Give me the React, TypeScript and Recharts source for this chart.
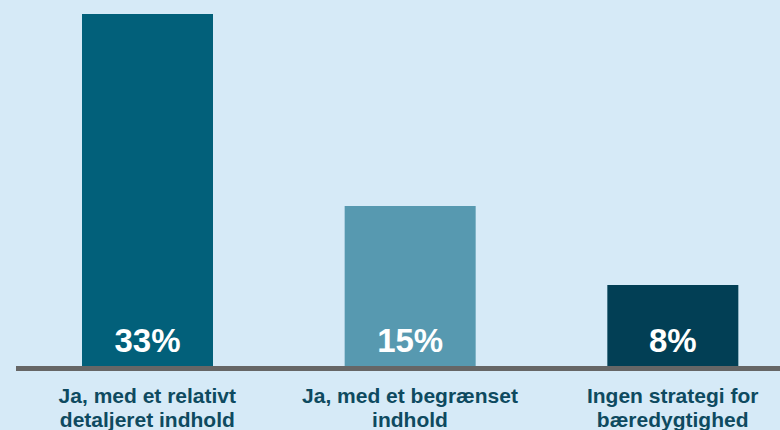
import { BarChart, Bar, XAxis, YAxis, Cell, LabelList } from 'recharts';

const categories = [
  'Ja, med et relativt\ndetaljeret indhold',
  'Ja, med et begrænset\nindhold',
  'Ingen strategi for\nbæredygtighed',
];
const values = [33, 15, 7.6];
const valueLabels = ['33%', '15%', '8%'];
const barColors = ['#02607a', '#5799b0', '#023f55'];

const data = categories.map((name, i) => ({ name, value: values[i], label: valueLabels[i] }));

const FONT = '"Liberation Sans", Arial, sans-serif';
const TEXT_COLOR = '#0e4a60';

function CategoryTick({ x, y, payload }: any) {
  const lines = String(payload.value).split('\n');
  return (
    <g>
      {lines.map((line, i) => (
        <text
          key={i}
          x={x}
          y={y + 34.5 + i * 24}
          textAnchor="middle"
          fill={TEXT_COLOR}
          fontFamily={FONT}
          fontWeight="bold"
          fontSize={21}
        >
          {line}
        </text>
      ))}
    </g>
  );
}

function ValueLabel({ x, y, width, height, index }: any) {
  return (
    <text
      x={x + width / 2}
      y={y + height - 14}
      textAnchor="middle"
      fill="#ffffff"
      fontFamily={FONT}
      fontWeight="bold"
      fontSize={33}
    >
      {valueLabels[index]}
    </text>
  );
}

export default function App() {
  return (
    <div
      style={{
        position: 'fixed',
        top: 0,
        left: 0,
        width: 780,
        height: 430,
        overflow: 'hidden',
        background: '#d6eaf7',
      }}
    >
      <BarChart
        width={804}
        height={436}
        data={data}
        margin={{ top: 14, right: 0, left: 16, bottom: 7.5 }}
        barCategoryGap={0}
      >
        <YAxis hide domain={[-0.234, 33]} allowDataOverflow />
        <XAxis
          dataKey="name"
          height={60}
          axisLine={{ stroke: '#666666', strokeWidth: 5 }}
          tickLine={false}
          tickSize={0}
          tickMargin={0}
          interval={0}
          tick={<CategoryTick />}
        />
        <Bar dataKey="value" barSize={131} isAnimationActive={false}>
          {data.map((entry, index) => (
            <Cell key={`cell-${index}`} fill={barColors[index]} />
          ))}
          <LabelList dataKey="label" content={<ValueLabel />} />
        </Bar>
      </BarChart>
    </div>
  );
}
